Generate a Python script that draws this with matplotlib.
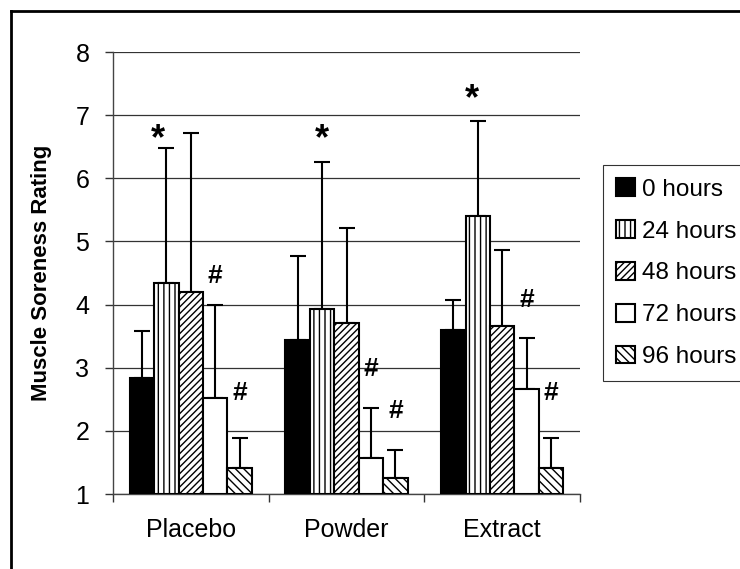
import matplotlib
matplotlib.use("Agg")
import matplotlib.pyplot as plt
from matplotlib.lines import Line2D
import numpy as np

plt.rcParams['font.family'] = ['Liberation Sans', 'DejaVu Sans']
plt.rcParams['hatch.linewidth'] = 1.0

categories = ["Placebo", "Powder", "Extract"]
series_labels = ["0 hours", "24 hours", "48 hours", "72 hours", "96 hours"]
hours_0 = [2.84, 3.44, 3.60]
hours_24 = [4.34, 3.93, 5.41]
hours_48 = [4.20, 3.71, 3.66]
hours_72 = [2.52, 1.57, 2.66]
hours_96 = [1.41, 1.25, 1.41]
err_0 = [0.74, 1.33, 0.47]
err_24 = [2.14, 2.33, 1.49]
err_48 = [2.52, 1.51, 1.21]
err_72 = [1.47, 0.79, 0.81]
err_96 = [0.48, 0.45, 0.48]
y_ticks = [1, 2, 3, 4, 5, 6, 7, 8]

# significance markers
star_x = [-0.211, 0.842, 1.806]
star_y = [6.61, 6.61, 7.24]
hash_series = [3, 4, 3, 4, 3, 4]
hash_group = [0, 0, 1, 1, 2, 2]
hash_y = [4.45, 2.60, 2.98, 2.31, 4.08, 2.60]

values = [hours_0, hours_24, hours_48, hours_72, hours_96]
errors = [err_0, err_24, err_48, err_72, err_96]
facecolors = ["black", "white", "white", "white", "white"]
hatches = [None, "|||", "/////", None, "\\\\\\\\"]

fig = plt.figure(figsize=(7.40, 5.69), dpi=100)
ax = fig.add_axes([113/740, 1-494/569, (580-113)/740, (494-52)/569])

x = np.arange(len(categories))
w = 0.157
for i, (vals, errs) in enumerate(zip(values, errors)):
    pos = x + (i - 2) * w
    ax.bar(pos, np.array(vals) - 1, bottom=1, width=w, color=facecolors[i],
           edgecolor="black", linewidth=1.5, hatch=hatches[i], zorder=3,
           label=series_labels[i])
    ax.errorbar(pos, vals, yerr=[np.zeros(len(errs)), errs], fmt="none",
                ecolor="black", elinewidth=1.5, capsize=6, capthick=1.5, zorder=2)

for sx, sy in zip(star_x, star_y):
    ax.text(sx, sy, "*", fontsize=26, fontweight="bold", ha="center", va="center",
            zorder=5)
for s, g, hy in zip(hash_series, hash_group, hash_y):
    ax.text(g + (s - 2) * w, hy, "#", fontsize=19, fontweight="bold",
            ha="center", va="center", zorder=5)

ax.set_xlim(-0.5, 2.5)
ax.set_ylim(1, 8)
ax.set_yticks(y_ticks)
ax.set_yticklabels([str(t) for t in y_ticks], fontsize=18)
ax.set_xticks(x)
ax.set_xticklabels(categories, fontsize=18)
ax.set_xticks([-0.5, 0.5, 1.5, 2.5], minor=True)
ax.tick_params(axis="x", which="major", length=0, pad=17)
ax.tick_params(axis="x", which="minor", length=6, width=1, color="#333333", direction="out")
ax.tick_params(axis="y", which="major", length=6, width=1, color="#333333", pad=11)

ax.grid(axis="y", color="#333333", linewidth=0.9, zorder=0)
for sp in ["top", "right"]:
    ax.spines[sp].set_visible(False)
for sp in ["left", "bottom"]:
    ax.spines[sp].set_color("#444444")
    ax.spines[sp].set_linewidth(1.0)

ax.set_ylabel("Muscle Soreness Rating", fontsize=16, fontweight="bold")
ax.yaxis.set_label_coords(-0.131, 0.5)

handles, labels = ax.get_legend_handles_labels()
leg = fig.legend(handles, labels, loc="upper left",
                 bbox_to_anchor=(603/740, 1-165/569), fontsize=17.5,
                 frameon=True, fancybox=False, edgecolor="black",
                 handlelength=0.75, handleheight=0.75, handletextpad=0.3,
                 labelspacing=0.8, borderpad=0.55, borderaxespad=0)
leg.get_frame().set_linewidth(0.8)

fig.add_artist(Line2D([11/740, 1.0], [1-11/569, 1-11/569], color="black", lw=2))
fig.add_artist(Line2D([11/740, 11/740], [0, 1-11/569], color="black", lw=2))

fig.savefig("out.png", dpi=100)
